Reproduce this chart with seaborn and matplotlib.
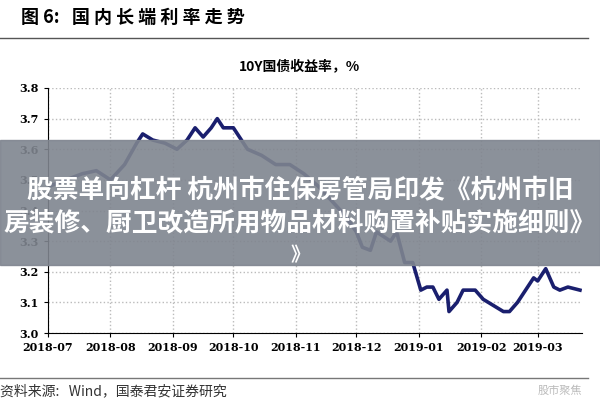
import matplotlib
matplotlib.use('Agg')
import matplotlib.pyplot as plt
import matplotlib.dates as mdates
from matplotlib import font_manager
import seaborn as sns
import pandas as pd
from matplotlib.patches import Rectangle

names = sorted({f.name for f in font_manager.fontManager.ttflist if 'CJK' in f.name})
cjk = 'Noto Sans CJK SC' if 'Noto Sans CJK SC' in names else (names[0] if names else 'DejaVu Sans')
plt.rcParams['font.family'] = 'sans-serif'
plt.rcParams['font.sans-serif'] = [cjk, 'DejaVu Sans']

dates = ['2018-07-02', '2018-07-10', '2018-07-18', '2018-07-25', '2018-08-01', '2018-08-08',
         '2018-08-14', '2018-08-17', '2018-08-22', '2018-08-28', '2018-09-03', '2018-09-08',
         '2018-09-12', '2018-09-16', '2018-09-20', '2018-09-23', '2018-09-26', '2018-10-01',
         '2018-10-08', '2018-10-15', '2018-10-22', '2018-10-29', '2018-11-05', '2018-11-12',
         '2018-11-19', '2018-11-26', '2018-12-01', '2018-12-04', '2018-12-08', '2018-12-11',
         '2018-12-18', '2018-12-21', '2018-12-25', '2018-12-29', '2019-01-02', '2019-01-05',
         '2019-01-08', '2019-01-11', '2019-01-15', '2019-01-16', '2019-01-20', '2019-01-23',
         '2019-01-29', '2019-02-02', '2019-02-12', '2019-02-15', '2019-02-19', '2019-02-23',
         '2019-02-27', '2019-03-01', '2019-03-05', '2019-03-09', '2019-03-12', '2019-03-16',
         '2019-03-22']
yields = [3.48, 3.50, 3.52, 3.53, 3.50, 3.55,
          3.62, 3.65, 3.63, 3.62, 3.60, 3.63,
          3.67, 3.64, 3.67, 3.70, 3.67, 3.67,
          3.60, 3.58, 3.55, 3.55, 3.52, 3.48,
          3.43, 3.38, 3.33, 3.28, 3.27, 3.33,
          3.30, 3.33, 3.23, 3.23, 3.14, 3.15,
          3.15, 3.11, 3.14, 3.07, 3.10, 3.14,
          3.14, 3.11, 3.07, 3.07, 3.10, 3.14,
          3.18, 3.17, 3.21, 3.15, 3.14, 3.15,
          3.14]
month_ticks = ['2018-07', '2018-08', '2018-09', '2018-10', '2018-11', '2018-12',
               '2019-01', '2019-02', '2019-03']
y_ticks = [3.0, 3.1, 3.2, 3.3, 3.4, 3.5, 3.6, 3.7, 3.8]

df = pd.DataFrame({'date': pd.to_datetime(dates), 'yield': yields})

fig = plt.figure(figsize=(6, 4), dpi=100)
ax = fig.add_axes([0.08, 0.1675, 0.89, 0.6125])
sns.lineplot(data=df, x='date', y='yield', ax=ax, color='#1a1f6e', linewidth=2.6)

ax.set_xlim(pd.Timestamp('2018-07-01'), pd.Timestamp('2019-03-23'))
ax.set_ylim(3.0, 3.8)
ax.set_xticks(pd.to_datetime([m + '-01' for m in month_ticks]))
ax.xaxis.set_major_formatter(mdates.DateFormatter('%Y-%m'))
ax.set_yticks(y_ticks)
ax.set_yticklabels([f'{v:.1f}' for v in y_ticks])
ax.tick_params(labelsize=8, length=3, direction='out')
for lab in ax.get_xticklabels() + ax.get_yticklabels():
    lab.set_fontfamily('DejaVu Serif')
    lab.set_fontweight('bold')
ax.grid(True, color='#bbbbbb', linestyle=':', linewidth=1)
for s in ['top', 'right']:
    ax.spines[s].set_visible(False)
ax.set_xlabel('')
ax.set_ylabel('')

fig.text(0.5, 0.825, '10Y国债收益率，%', ha='center', fontsize=10, fontweight='bold')
fig.text(0.035, 0.942, '图 6:   国 内 长 端 利 率 走 势', fontsize=13, fontweight='bold')
fig.add_artist(plt.Line2D([0.0, 0.98], [0.905, 0.905], color='#555555', lw=1))
fig.add_artist(plt.Line2D([0.0, 0.98], [0.055, 0.055], color='#777777', lw=1))
fig.text(0.0, 0.012, '资料来源:   Wind，国泰君安证券研究', fontsize=10, color='#333333')
fig.text(0.97, 0.015, '股市聚焦', ha='right', fontsize=8, color='#bbbbbb')

# overlay banner
fig.patches.append(Rectangle((0, 0.338), 1, 0.312, transform=fig.transFigure,
                             color='#7f858f', alpha=0.9, zorder=5))
fig.text(0.5, 0.484, '股票单向杠杆 杭州市住保房管局印发《杭州市旧\n房装修、厨卫改造所用物品材料购置补贴实施细则》',
         ha='center', va='center', fontsize=18.5, fontweight='bold', color='white',
         linespacing=1.3, zorder=6)
fig.text(0.5, 0.36, '》', ha='center', va='center', fontsize=14,
         fontweight='bold', color='white', zorder=6)

fig.savefig('out.png', dpi=100)
